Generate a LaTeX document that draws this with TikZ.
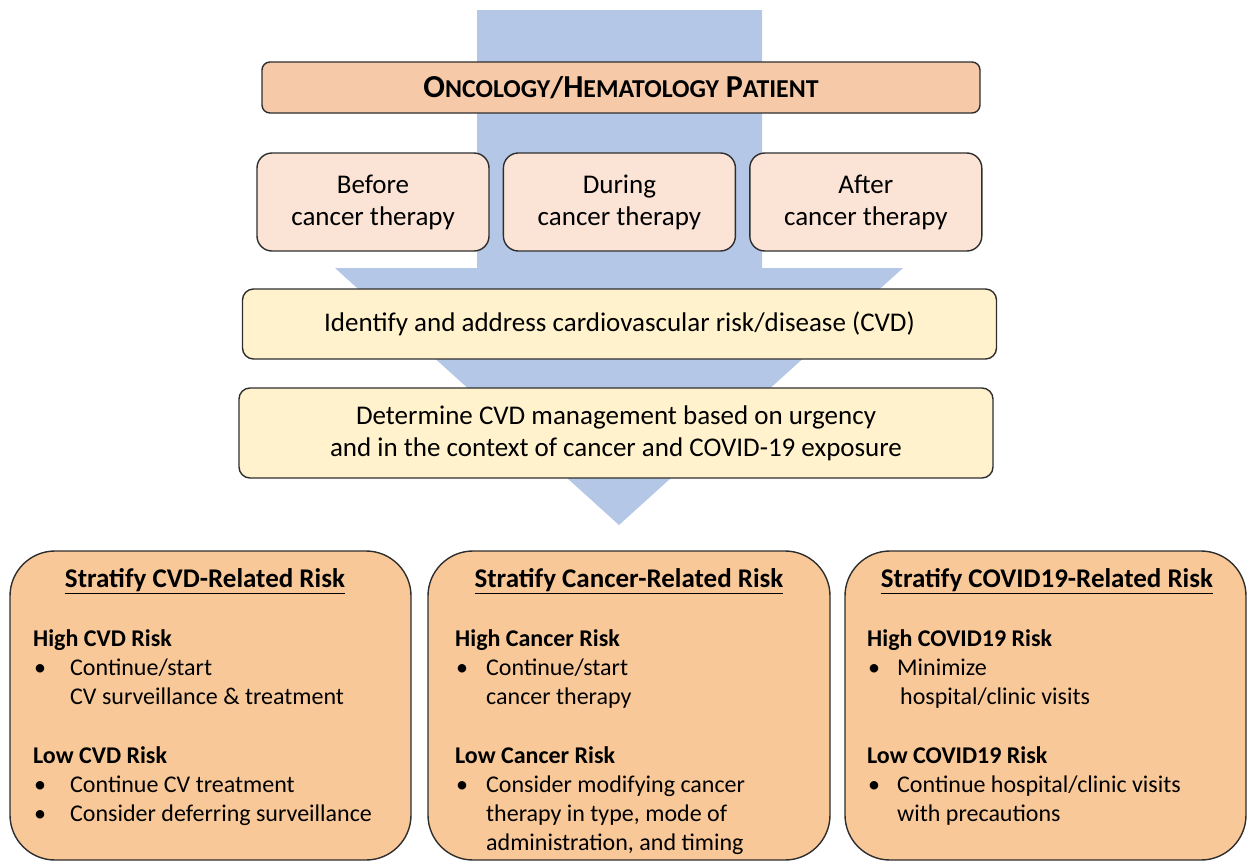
\documentclass[tikz,border=0pt]{standalone}
\usepackage{fontspec}
\setmainfont{Carlito}
\usetikzlibrary{positioning}

\definecolor{arrowblue}{HTML}{B4C7E7}
\definecolor{headfill}{HTML}{F6C9A9}
\definecolor{stagefill}{HTML}{FBE4D6}
\definecolor{stepfill}{HTML}{FFF2CC}
\definecolor{riskfill}{HTML}{F9C898}
\definecolor{edge}{HTML}{2E2E2E}

\newcommand{\bul}[1][36pt]{\hspace*{1pt}\makebox[#1][l]{\textbullet}}
\newcommand{\smcap}[2]{{\fontsize{32}{32}\selectfont #1}{\fontsize{25.8}{32}\selectfont #2}}

\begin{document}
\begin{tikzpicture}[x=1pt,y=-1pt,
  headbox/.style={draw=edge,line width=1.4pt,fill=headfill,rounded corners=8pt,
    minimum width=718pt,minimum height=51pt,inner sep=0pt,
    font=\bfseries\fontsize{30}{32}\selectfont},
  stagebox/.style={draw=edge,line width=1.4pt,fill=stagefill,rounded corners=15pt,
    minimum width=232pt,minimum height=98pt,align=center,inner sep=0pt,
    font=\fontsize{27}{32}\selectfont},
  stepbox/.style={draw=edge,line width=1.4pt,fill=stepfill,rounded corners=11pt,
    minimum width=754pt,align=center,inner sep=0pt,
    font=\fontsize{27}{32}\selectfont},
  riskbox/.style={draw=edge,line width=1.4pt,fill=riskfill,rounded corners=45pt,
    minimum width=401pt,minimum height=309pt,inner sep=0pt},
  risktitle/.style={inner sep=0pt,font=\bfseries\fontsize{27}{29}\selectfont},
  risktext/.style={inner sep=0pt,anchor=north west,align=left,
    font=\fontsize{24}{29}\selectfont}]
\useasboundingbox (0,0) rectangle (1254,863);
\fill[arrowblue] (477,10) -- (762,10) -- (762,268) -- (903,268) -- (619,525)
  -- (335,268) -- (477,268) -- cycle;
\node[headbox] (patient) at (621,87.5)
  {\smcap{O}{NCOLOGY}/\smcap{H}{EMATOLOGY} \smcap{P}{ATIENT}};
\node[stagebox] (before) at (373,202) {Before\\cancer therapy};
\node[stagebox,right=13pt of before] (during) {During\\cancer therapy};
\node[stagebox,right=13pt of during] (after) {After\\cancer therapy};
\node[stepbox,minimum height=70pt] (identify) at (619.5,324)
  {Identify and address cardiovascular risk/disease (CVD)};
\node[stepbox,minimum height=90pt] (determine) at (616,433)
  {Determine CVD management based on urgency\\and in the context of cancer and COVID-19 exposure};
\node[riskbox] (cvd) at (210.5,705.5) {};
\node[riskbox,minimum width=402pt] (cancer) at (629,705.5) {};
\node[riskbox] (covid) at (1045.5,705.5) {};
\node[risktitle] (cvdtitle) at (205,581) {\underline{Stratify CVD-Related Risk}};
\node[risktitle] (cancertitle) at (629,581) {\underline{Stratify Cancer-Related Risk}};
\node[risktitle] (covidtitle) at (1047,581) {\underline{Stratify COVID19-Related Risk}};
\node[risktext] (cvdtext) at (33,629)
  {\textbf{High CVD Risk}\\
   \bul Continue/start\\
   \hspace*{37pt}CV surveillance \& treatment\\[30pt]
   \textbf{Low CVD Risk}\\
   \bul Continue CV treatment\\
   \bul Consider deferring surveillance};
\node[risktext] (cancertext) at (455,629)
  {\textbf{High Cancer Risk}\\
   \bul[30pt]Continue/start\\
   \hspace*{31pt}cancer therapy\\[30pt]
   \textbf{Low Cancer Risk}\\
   \bul[30pt]Consider modifying cancer\\
   \hspace*{31pt}therapy in type, mode of\\
   \hspace*{31pt}administration, and timing};
\node[risktext] (covidtext) at (867,629)
  {\textbf{High COVID19 Risk}\\
   \bul[29pt]Minimize\\
   \hspace*{33pt}hospital/clinic visits\\[30pt]
   \textbf{Low COVID19 Risk}\\
   \bul[29pt]Continue hospital/clinic visits\\
   \hspace*{30pt}with precautions};
\end{tikzpicture}
\end{document}
